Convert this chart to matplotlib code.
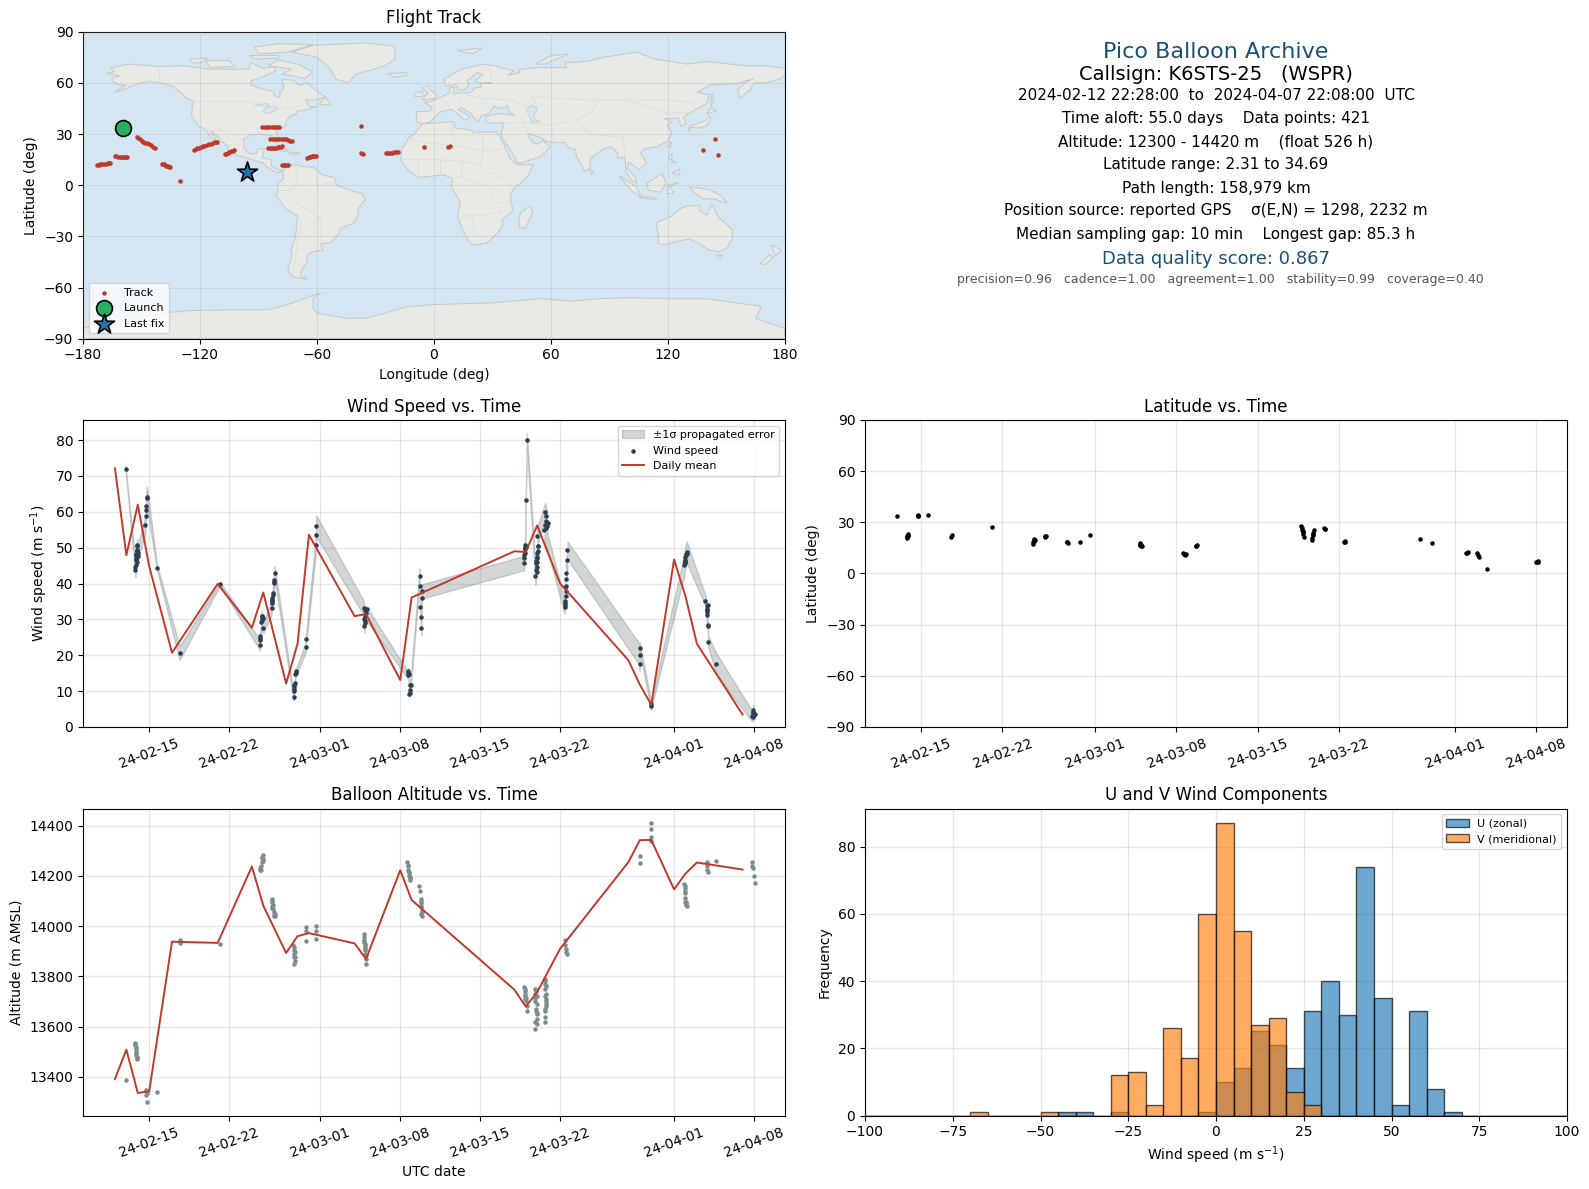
#!/usr/bin/env python
# Pico balloon flight summary: track map, text box, time series, wind histogram
import numpy as np
import matplotlib
matplotlib.use("Agg")
from matplotlib import pyplot as plt
from matplotlib import dates as mdates
from matplotlib.patches import Polygon

wind_day = [-2.06, -1.2, -1.2, -1.17, -1.15, -1.12, -1.1, -1.08, -1.05, -1.02,
            -0.35, -0.3, -0.28, -0.27, -0.22, -0.2, 0.7, 2.66, 6.2,
            9.7, 9.72, 9.75, 9.9, 9.85, 9.87, 10.0,
            10.72, 10.75, 10.8, 10.85, 10.95, 10.97, 11.0,
            12.65, 12.68, 12.72, 12.75, 12.85, 13.72, 13.75, 14.6, 14.62, 14.65,
            18.8, 18.85, 18.9, 18.95, 19.0,
            22.65, 22.7, 22.8, 22.85, 22.9,
            23.7, 23.72, 23.75, 23.8, 23.85, 23.88, 23.9,
            32.85, 32.87, 32.9, 32.92, 32.95, 33.0, 33.1,
            33.85, 33.9, 33.9, 33.95, 34.0, 34.05, 34.0,
            34.7, 34.8, 34.9, 34.65, 34.62,
            36.4, 36.42, 36.5, 36.55, 36.55, 36.5, 36.65, 36.65,
            43.0, 43.0, 43.0, 44.0, 44.02,
            46.9, 46.95, 47.05, 47.1,
            48.75, 48.85, 48.9, 48.85, 48.95, 49.0, 49.7,
            52.85, 52.9, 52.95, 53.0]
wind = [71.9, 43.7, 44.6, 46.5, 47, 48, 49, 49.4, 50.4, 48.5,
        56.2, 58.9, 60.6, 61.7, 63.8, 64.1, 44.3, 20.6, 39.9,
        22.9, 24.3, 25.3, 29.9, 30.9, 30.2, 27.6,
        33.2, 34.6, 36, 37.4, 40.1, 41, 42.9,
        8.4, 9.9, 11.3, 12.3, 15.1, 22.3, 24.5, 50.7, 53.5, 56,
        33.2, 28.3, 29.5, 30.9, 31.8,
        14.6, 15.5, 9.2, 10.4, 11.8,
        42.2, 39.2, 33.5, 30.7, 27.6, 36, 37.8,
        45.7, 47.1, 48.5, 49.9, 50.8, 63.4, 80,
        42.1, 43.9, 45.7, 47.1, 48.5, 50.4, 53.2,
        60, 58.7, 56.9, 56.4, 55,
        33.5, 35, 37.8, 39.2, 41.4, 42.9, 46.7, 49.3,
        20.1, 17.6, 22, 5.8, 6.5,
        45.3, 46.7, 48.1, 48.8,
        35.2, 33.6, 32.2, 31.3, 28.1, 23.7, 17.6,
        3, 3.9, 4.8, 3.4]
wind_err = [0.8, 2, 2, 2, 2, 2, 2, 2, 2, 2,
            2.5, 2.5, 2.5, 3, 3, 3, 0.8, 2, 0.5,
            1.5, 1.5, 1.5, 1.5, 1.5, 1.5, 1.5,
            2, 2, 2, 2, 2, 2, 2,
            1, 1, 1, 1, 1, 1.5, 1.5, 2.5, 3, 3,
            2, 2, 2, 2, 2,
            1, 1, 1, 1.5, 1.5,
            2, 2, 2, 2, 2, 2, 2,
            2, 2.5, 2.5, 2.5, 2.5, 1.5, 2,
            2.5, 2.5, 2.5, 2.5, 2.5, 2.5, 2.5,
            2.5, 2.5, 2.5, 2.5, 2.5,
            2, 2, 2, 2, 2, 2.5, 2.5, 2.5,
            3, 2, 1.5, 1, 1,
            3, 3, 3, 3,
            1.5, 1.5, 1.5, 1.5, 1.5, 1.5, 3,
            1.5, 1.5, 1.5, 1.5]

# more wind dots inside the dense stacks, no band behind them
wind_extra_day = [-1.18, -1.1, -1.05, -1.0, -1.08, -1.13, -1.03, 9.82, 9.9, 9.95, 9.7,
                  10.75, 10.8, 10.85, 10.95, 12.7, 12.7, 12.85, 12.75,
                  18.85, 18.95, 19.05, 18.9, 22.65, 22.75, 22.85, 22.95,
                  32.88, 32.9, 33.0, 33.05, 32.95,
                  33.95, 33.9, 34.0, 34.05, 34.05, 33.95, 34.0,
                  34.85, 34.95, 34.9, 34.75, 34.8, 36.4, 36.4, 36.45, 36.5,
                  46.95, 47.0, 47.0, 47.1, 47.0, 48.9, 48.95, 49.0, 48.9,
                  52.9, 53.1, 52.95, 52.9]
wind_extra = [45.2, 47.5, 49, 47.8, 46, 48.3, 50.8, 29.4, 31, 30.5, 24.8,
              35.5, 35, 36.8, 40.5, 10.5, 11.8, 15.6, 14.8,
              30, 32.5, 33, 29, 15, 14.8, 9.6, 11.6,
              48, 49.5, 50.3, 50.6, 50,
              44.5, 46.3, 47.5, 49, 50.6, 43.3, 46,
              56.8, 56.9, 56, 55.5, 57.3, 33.9, 34.5, 39, 36.5,
              46, 46.3, 47.5, 48.2, 45.8, 33, 33.9, 28.5, 32.7,
              3.3, 3.5, 2.8, 4.3]

# daily means (dates are midnight UTC)
mean_dates = ["2024-02-12", "2024-02-13", "2024-02-14", "2024-02-15", "2024-02-17",
              "2024-02-21", "2024-02-24", "2024-02-25", "2024-02-27", "2024-02-28",
              "2024-02-29", "2024-03-04", "2024-03-05", "2024-03-08", "2024-03-09",
              "2024-03-18", "2024-03-19", "2024-03-20", "2024-03-22", "2024-03-28",
              "2024-03-29", "2024-03-30", "2024-04-01", "2024-04-02", "2024-04-03",
              "2024-04-07"]
wind_mean = [72.1, 47.9, 62, 44.8, 20.7, 39.9, 27.7, 37.5, 12.1, 23.2, 53.6, 30.9, 31.5,
             13.1, 36.1, 49.0, 48.8, 56.2, 40.1, 18.6, 11.8, 6.2, 46.7, 36.4, 23.2, 3.5]
alt_mean = [13391, 13508, 13336, 13342, 13938, 13933, 14237, 14081, 13893, 13960, 13972,
            13931, 13869, 14222, 14104, 13747, 13680, 13737, 13909, 14255, 14342, 14343,
            14146, 14209, 14253, 14225]

alt_day = [-2.06, -1.2, -1.18, -1.15, -1.15, -1.12, -1.1, -1.08, -1.2, -0.3, -0.27, -0.22,
           -0.2, -0.25, 0.7, 2.66, 2.7, 6.2,
           9.7, 9.75, 9.8, 9.85, 9.9, 9.95, 10.0, 10.72, 10.75, 10.8, 10.85, 10.9, 10.95,
           11.0, 12.6, 12.65, 12.7, 12.72, 12.75, 12.7, 13.7, 13.75, 13.75, 14.65, 14.65, 14.65,
           18.8, 18.82, 18.85, 18.9, 18.9, 18.95, 19.0, 19.0,
           22.6, 22.65, 22.7, 22.75, 22.8, 22.85, 22.9, 23.65, 23.7,
           23.8, 23.82, 23.85, 23.88, 23.9,
           32.85, 32.9, 32.95, 33.0, 33.1, 33.15,
           33.8, 33.85, 33.85, 33.9, 33.95, 33.95, 33.95, 33.85,
           34.65, 34.7, 34.7, 34.75, 34.8, 34.75, 34.7, 34.65, 34.65,
           36.4, 36.45, 36.5, 36.55, 36.6,
           43.0, 43.0, 44.0, 44.0, 44.0, 44.0,
           46.9, 46.95, 46.95, 47.0, 47.05, 47.05, 47.1,
           48.85, 48.9, 48.9, 48.95, 49.7,
           52.8, 52.85, 52.9, 53.0, 53.05,
           33.9, 33.95, 33.85, 33.95, 33.9, 33.85, 33.95,
           34.7, 34.75, 34.7, 34.8, 34.75, 34.7, 32.9, 32.95, 32.9, 33.0,
           9.8, 9.9, 9.95, 10.8, 10.85, 10.8, 10.9, 11.0, 12.7, 12.75, 12.8,
           18.85, 18.9, 18.95, 19.0, 22.7, 22.8, 22.85, 23.85, 23.85, 23.9, 23.85,
           -1.15, -1.1, -1.2, 46.95, 47.0, 47.0, 47.05]
alt = [13388, 13530, 13520, 13510, 13495, 13485, 13475, 13470, 13525, 13348, 13326, 13300,
       13335, 13342, 13340, 13945, 13932, 13930,
       14222, 14230, 14240, 14255, 14272, 14282, 14265, 14109, 14095, 14080, 14068, 14055, 14045,
       14040, 13923, 13905, 13890, 13875, 13860, 13850, 13980, 13995, 13940, 14000, 13980, 13950,
       13970, 13955, 13935, 13920, 13905, 13890, 13870, 13850,
       14255, 14240, 14225, 14210, 14200, 14190, 14185, 14158, 14140,
       14109, 14090, 14075, 14055, 14039,
       13757, 13740, 13720, 13700, 13680, 13660,
       13750, 13730, 13700, 13670, 13650, 13630, 13610, 13590,
       13790, 13770, 13750, 13730, 13700, 13680, 13660, 13640, 13617,
       13943, 13925, 13910, 13895, 13890,
       14279, 14251, 14412, 14388, 14355, 14339,
       14169, 14150, 14130, 14110, 14095, 14085, 14080,
       14255, 14240, 14225, 14215, 14260,
       14255, 14240, 14230, 14200, 14170,
       13740, 13720, 13715, 13690, 13660, 13620, 13655,
       13780, 13760, 13720, 13710, 13690, 13670, 13750, 13730, 13710, 13715,
       14225, 14275, 14260, 14100, 14085, 14070, 14040, 14050, 13915, 13895, 13875,
       13945, 13930, 13912, 13885, 14245, 14215, 14195, 14100, 14080, 14060, 14050,
       13500, 13480, 13535, 14160, 14140, 14095, 14090]

lat_day = [-2.07, -1.25, -1.2, -1.15, -1.1, -0.3, -0.25, 0.6, 2.6, 2.62, 6.1,
           9.6, 9.65, 9.7, 9.75, 10.65, 10.75, 12.55, 12.65, 13.65, 14.55,
           18.85, 18.9, 18.95, 22.6, 22.75, 23.65, 23.75,
           32.75, 32.8, 32.85, 32.9, 32.95, 33.0,
           33.65, 33.7, 33.75, 33.8, 33.85, 34.7, 34.85, 36.45, 36.55,
           43.0, 44.0, 47.0, 47.1, 47.9, 48.0, 48.1, 48.8, 53.0, 53.1, 53.2,
           -1.1, -1.2, -0.27, 9.75, 9.8, 12.6, 18.95, 19.0, 18.9, 22.65, 22.8,
           23.7, 10.7, 32.9, 33.8, 34.8, 36.5, 47.05, 53.15]
lat_val = [33.5, 20.6, 21.3, 22.2, 23.4, 33.9, 34.2, 34.1, 21.6, 22.4, 27,
           17.3, 18.2, 19.2, 20, 21.2, 21.9, 18.6, 18, 18.2, 22.4,
           17.6, 16.6, 15.9, 11.8, 11.1, 15.9, 16.7,
           27.8, 26.6, 25.4, 24.2, 23, 21.6,
           19.6, 21, 22.5, 24, 25.5, 26.5, 26.1, 18.2, 19.3,
           20, 17.6, 12.2, 12.4, 12.2, 11, 9.6, 2.35, 6.6, 6.9, 7.2,
           22.3, 21.8, 34, 18.8, 19.7, 18.4, 16.5, 16, 17, 11.5, 11.4,
           16.3, 21.7, 24.8, 23, 26.3, 18.7, 12.3, 6.9]

# ---- map track
track_lon = [-172.8, -172, -171.2, -170.2, -169.3, -168.3, -167.3, -166.8, -166.2,
             -163.8, -163, -162.1, -161.1, -160.2, -159.3, -158.5, -157.9, -157.3,
             -152.5, -151.7, -150.9, -150, -149, -148, -147.1, -146.1, -145.1, -144.1, -143.2,
             -139.4, -138.7, -138, -137.3, -136.6, -136, -135.4, -130.3,
             -123.2, -122.3, -121.5, -120.5, -119.6, -118.6, -117.7, -116.6, -115.6, -114.4, -113.2, -112.2, -111.3,
             -107.2, -106.5, -105.8, -105, -104.1, -103.2, -102.4,
             -88.1, -86.9, -85.7, -84.5, -83.3, -82.3, -81.4, -80.5, -79.7,
             -84, -82.8, -81.7, -80.5, -79.3, -78.1, -76.9, -75.9, -75, -73.8, -72.6,
             -85, -84, -83.1, -82.1, -81.2, -80.2, -79.3, -78.7, -78.1,
             -77.8, -77, -76.2, -75.6, -75,
             -64.9, -64.2, -63.5, -62.8, -62.1, -61.3, -60.6,
             -37.5, -37.3, -36.3,
             -24.4, -23.4, -22.5, -21.5, -20.5, -19.5, -18.6,
             -5.3, 7.1, 8.1, 143.9, 138.2, 145.8]
track_lat = [11.9, 12.1, 12.3, 12.4, 12.5, 12.7, 12.9, 12.9, 12.9,
             17.4, 17.1, 16.8, 16.7, 16.6, 16.6, 16.6, 16.6, 16.6,
             28, 27.4, 26.8, 26.2, 25.6, 25, 24.5, 23.9, 23.3, 22.6, 21.9,
             12.7, 12.3, 11.9, 11.5, 11.2, 10.8, 10.4, 2.4,
             20.9, 21.3, 21.7, 22, 22.3, 22.7, 23.1, 23.5, 23.9, 24.4, 24.9, 25.1, 25.4,
             18, 18.5, 19, 19.4, 19.8, 20.1, 20.4,
             34.2, 34.2, 34.2, 34.2, 34.2, 34.2, 34.2, 34.3, 34.4,
             27.2, 27.2, 27.2, 27.2, 27.2, 27.1, 27, 26.8, 26.6, 26.2, 25.8,
             21.9, 21.9, 21.9, 22, 22.1, 22.3, 22.5, 22.6, 22.7,
             11.9, 11.9, 11.9, 11.9, 11.9,
             16.2, 16.5, 16.8, 17, 17.2, 17.3, 17.4,
             34.7, 18.6, 18,
             19, 19, 19, 19.1, 19.2, 19.4, 19.6,
             22.3, 22.5, 22.9, 27, 20.7, 17.8]
launch = (-159.7, 33.7)
last_fix = (-96, 7.8)

# ---- histogram counts by left bin edge, 5 m/s bins, empty bins left out
u_hist = {-45: 1, -40: 1, -30: 1, -5: 1, 0: 10, 5: 14, 10: 25, 15: 21, 20: 14, 25: 31, 30: 40,
          35: 30, 40: 74, 45: 35, 50: 3, 55: 31, 60: 8, 65: 1}
v_hist = {-70: 1, -50: 1, -30: 12, -25: 13, -20: 3, -15: 26, -10: 17, -5: 60, 0: 87, 5: 55,
          10: 27, 15: 29, 20: 7, 25: 3}
bin_left = list(range(-100, 100, 5))
u_counts = [u_hist.get(b, 0) for b in bin_left]
v_counts = [v_hist.get(b, 0) for b in bin_left]

# ---- rough coastlines (lon, lat)
land = [
    [(-168,65.5),(-164,66.5),(-166,68.5),(-157,71),(-141,69.7),(-128,70),(-115,68),(-108,68),(-95,68),(-94,72),
     (-88,68.5),(-82,69.5),(-81,67),(-87,64),(-94,61),(-94,58.8),(-88,56.5),(-82,55),(-82,52.5),(-79,51.5),(-79,55),
     (-77,57),(-78,62),(-72,61.5),(-69,58.5),(-65,60),(-60,55),(-56,52),(-60,50),(-66,50),(-65,48.5),(-64,46),(-60,46),
     (-66,44),(-70,43.5),(-71,41.5),(-74,40.5),(-76,37),(-76,35),(-81,31.5),(-80,26),(-81,25),(-83,29),(-89,30),
     (-94,29.5),(-97.5,27),(-97.5,22),(-95,18.5),(-91,18.5),(-90.5,21),(-87,21.5),(-88,16),(-83.5,15),(-83.5,11),
     (-80,9),(-77.5,8.5),(-79,7.5),(-81,7.5),(-85,10),(-87.5,13),(-92,14.5),(-96,16),(-101,17.5),(-105.5,20),
     (-105.5,22.5),(-109,26),(-113,31),(-114.5,31.5),(-112,27),(-110,23),(-112,25),(-115,29),(-117,32.5),(-120.5,34.5),
     (-122.5,37.5),(-124.3,40.5),(-124,46),(-123,49),(-127,51),(-130,54.5),(-134,58),(-140,60),(-146,61),(-152,59.5),
     (-158,56.5),(-164,54.5),(-158,58.5),(-162,59),(-165,61),(-165,63),(-161,64)],
    [(-73,78),(-62,82),(-35,83.5),(-20,81.5),(-20,74),(-25,70),(-40,65),(-44,60),(-50,62),(-54,69),(-60,75)],
    [(-80,73.5),(-70,71),(-62,66.5),(-66,62.5),(-72,64),(-78,65),(-73,68),(-85,70)],
    [(-117,73),(-105,73),(-102,69.5),(-115,69)],
    [(-90,77),(-75,78),(-62,82.5),(-80,83),(-92,81)],
    [(-125,74),(-116,74.5),(-120,71.5),(-125,72)],
    [(-95,76),(-80,76),(-80,74.5),(-92,74)],
    [(-59,47.5),(-53,47),(-55.5,51.5)],
    [(-84.5,22),(-80,23),(-74.5,20.2),(-78,20)],
    [(-74,19.5),(-68.5,18.7),(-71,18),(-74,18.3)],
    [(-77.5,8.5),(-75,11),(-71.5,12.3),(-68,11),(-62,10.5),(-57,6),(-51,4.5),(-50,0),(-44,-2.5),(-37,-5),(-35,-8),
     (-39,-14),(-39,-18),(-41,-22),(-48,-25.5),(-48.5,-28),(-53,-33.5),(-58,-34.5),(-57,-38),(-62,-39),(-65,-41),
     (-65,-45),(-68,-50),(-68.5,-53),(-65,-55),(-72,-54),(-75,-50),(-73,-42),(-73,-37),(-71,-30),(-70,-18),(-76,-14),
     (-81,-6),(-80,-2.5),(-80,1),(-77,4)],
    [(-6,36),(10,37.3),(11,33.5),(20,32),(20,31),(32,31.3),(34,28),(37,21),(39,15.5),(43,12),(51,12),(48,5),(41,-2),
     (39,-6),(40.5,-15),(35,-20),(35,-24),(32.5,-28),(27,-34),(20,-35),(18,-33),(15,-27),(12,-18),(13.5,-10),(9,-1),
     (9.5,4),(5,6),(-4,5),(-8,4.5),(-13,8.5),(-17,14.5),(-16.5,21),(-13,27.5),(-10,30)],
    [(49.5,-12),(50.5,-16),(47,-25),(44,-25),(43.5,-20),(44.5,-16)],
    [(-9,37),(-9,43),(-2,43.5),(-1,46),(-5,48.3),(-1.5,49),(2,51),(4,52),(8,54),(8,57),(10.5,57.5),(10,54),(14,54),
     (19,54.5),(21,57),(24,57.5),(24,59.5),(30,60),(23,60),(21,61),(25,65),(22,66),(17,61),(18,59.5),(16,56.3),
     (13,55.5),(11,59),(6,58.2),(5,62),(14,68),(25,71),(31,70),(41,67),(38,64.5),(44,66),(44,68),(54,69),(68,69),
     (67,72),(73,72),(80,73),(87,75),(104,78),(113,74),(130,71),(140,72.5),(160,70),(170,70),(180,68.5),(180,65),
     (178,62.5),(170,60),(164,60),(162,56),(157,51),(155.7,56),(160,60.5),(164,62.5),(155,59.5),(142,59),(135,54.5),
     (141,53),(140,48),(132,43),(128,40),(129.5,36),(126.5,34.5),(126,37.5),(125,39.5),(121.5,39),(118,39),(122,37),
     (119.5,35),(122,31),(120,26),(114,22.5),(108,21.5),(106,19),(109,13),(105,9),(103,11),(100,13.5),(99,10),(103,5),
     (104,1.5),(101,3),(98.5,8),(98,16),(94.5,16),(94,19),(91,22.5),(87,21.5),(80,15.5),(80,10),(77.5,8),(73,17),
     (72.5,21),(69,22),(67,25),(61,25),(57,26),(56,27),(50,30),(48,30),(50.5,25),(53,24),(56,26),(59.5,22.5),(55,17),
     (45,13),(43,13),(39,21),(35,28),(34.5,31),(36,36.5),(30,36.3),(27,37),(26.5,40),(29,41),(35,42),(41,41),(38,44),
     (38,46.5),(33,45),(31,46.5),(28,42),(24,40.5),(23,37),(20,40),(19,42),(14,45.5),(12.5,44.5),(18.5,40),(16,38),
     (12,42),(9,44.5),(3.5,43),(0,39.5),(-2,37),(-5.5,36)],
    [(-5.5,50),(1,51),(1.5,53),(-2,56),(-3,58.5),(-6,57),(-3,54),(-5,52)],
    [(-10,52),(-6,52),(-6,55),(-10,54)],
    [(-24,65.5),(-14,66),(-14,64.5),(-20,63.3)],
    [(12,79),(25,80.5),(20,77)],
    [(52,71),(57,71),(69,77),(60,76)],
    [(130.5,31.5),(132,34),(136,33.5),(140,35),(142,39.5),(141,41),(139.5,38),(136,36.5),(131,34.5)],
    [(140,42),(145,43.5),(142,45.5)],
    [(142,46),(143.5,50),(142.5,54),(142,50)],
    [(120,23),(121,22),(122,25),(121,25.2)],
    [(80,9.5),(82,7.5),(80.5,6)],
    [(95,5.5),(104,-1),(106,-6),(102,-4),(98,1)],
    [(105,-6.5),(114,-7.5),(114,-8.5),(106,-7.5)],
    [(109,1),(117,7),(119,1),(116,-4),(110,-3)],
    [(119.5,-5),(120,0),(125,1.5),(121,-1),(123,-5)],
    [(131,-1),(141,-2.5),(147,-6),(150.5,-10.5),(143,-8),(138,-8),(133,-4)],
    [(120,16),(122,18.5),(122,14),(124,13)],
    [(122,7),(126,9.5),(126,6)],
    [(114,-22),(122,-18),(126,-14),(130,-12),(136,-12),(136,-15),(140,-17.5),(142.5,-11),(146,-19),(153,-26),(153,-31),
     (150,-37),(146,-39),(141,-38),(137,-35),(131,-31.5),(124,-33),(118,-35),(115,-34),(115,-30)],
    [(145,-41),(148,-41),(147,-43.5)],
    [(173,-35),(178,-38),(175,-41.5),(174,-38)],
    [(172,-41),(174,-42),(170,-46.5),(167,-46)],
    [(-180,-90),(-180,-84),(-165,-80),(-150,-77),(-140,-75),(-125,-73.5),(-100,-73),(-85,-73),(-75,-70),(-68,-67),
     (-58,-63),(-62,-66),(-62,-72),(-60,-75),(-45,-78),(-35,-78),(-25,-75),(-15,-71.5),(0,-70),(15,-69.5),(30,-69),
     (40,-68),(55,-66.5),(70,-68),(85,-66.5),(100,-66),(120,-66.5),(140,-66.5),(155,-69),(168,-71),(165,-78),(180,-84),
     (180,-90)],
]
lakes = [
    [(50,47),(53,45),(51,40),(54,37),(50,37),(49,41),(47,44)],
    [(-92,47),(-85,48),(-84.5,46.5),(-88,46.5)],
    [(-88,43),(-86,45.5),(-81,46),(-80,44.5),(-83,43),(-86,42)],
]
borders = [
    [(-141,69.7),(-141,60)], [(-123,49),(-95,49),(-83,45.5),(-75,45),(-67,47)], [(-117,32.5),(-106,31.7),(-97.5,26)],
    [(-71,12),(-70,1),(-74,-3),(-70,-11),(-58,-20),(-58,-34)], [(-70,-18),(-68,-23),(-70,-33),(-72,-50)],
    [(-60,5),(-60,0),(-52,2)], [(-80,-3),(-74,-3)], [(-62,-22),(-58,-20)],
    [(-9,42),(-7,37)], [(-2,43.5),(3,42.5)], [(2,51),(8,47.5),(7,44)], [(8,54),(14,51),(13,47.5)], [(14,54),(24,51),(28,45)],
    [(30,60),(28,70)], [(24,51),(40,50),(48,46)], [(50,52),(62,51),(85,50),(98,50),(120,50),(135,48)],
    [(85,50),(80,42),(73,39),(61,35),(61,25)], [(73,39),(80,30),(97,28),(98,16)], [(50,52),(53,45)], [(98,50),(120,42),(130,43)],
    [(36,36.5),(46,37),(48,30)], [(46,37),(61,35)],
    [(-13,27.5),(-5,25),(12,23),(25,20),(37,21)], [(25,31),(25,20),(24,9),(35,5),(41,-2)], [(-17,15),(0,15),(15,14),(24,12)],
    [(10,37),(9,30),(12,23)], [(15,14),(14,5),(9.5,4)], [(14,5),(30,-2),(30,-10),(40.5,-10.5)], [(12,-18),(25,-18),(35,-15)],
    [(20,-29),(20,-18)], [(3,6),(3,15)], [(-8,4.5),(-8,15)],
]

# ---- fixed axes positions in pixels, figure is 1589x1189
fig = plt.figure(figsize=(15.89, 11.89), dpi=100)
FW, FH = 1589.0, 1189.0


def add_axes(left, right, top, bottom):
    return fig.add_axes([left/FW, 1-bottom/FH, (right-left)/FW, (bottom-top)/FH])


RED = "#c0392b"
NAVY = "#2c3e50"
GREY = "#7f8c8d"
GRID = dict(color="#b0b0b0", alpha=0.3, linewidth=1.0)

# map
ax = add_axes(83, 785, 31.7, 338.7)
ax.set_facecolor("#d4e6f1")
for poly in land:
    ax.add_patch(Polygon(poly, closed=True, facecolor="#e8e8e4", edgecolor="#c3c8ca", linewidth=0.7, zorder=1))
for poly in lakes:
    ax.add_patch(Polygon(poly, closed=True, facecolor="#d4e6f1", edgecolor="#c3c8ca", linewidth=0.5, zorder=1.1))
for line in borders:
    ax.plot([p[0] for p in line], [p[1] for p in line], color="#dcdcd8", linewidth=0.6, zorder=1.2)
ax.grid(True, color="#999999", alpha=0.25, linewidth=0.6, zorder=1.5)
ax.set_axisbelow(False)
ax.scatter(track_lon, track_lat, s=5, color=RED, zorder=3, label="Track")
ax.scatter(*launch, s=130, color="#27ae60", edgecolor="black", linewidth=1.2, zorder=4, label="Launch")
ax.scatter(*last_fix, s=230, marker="*", color="#2176ae", edgecolor="black", linewidth=1.2, zorder=4, label="Last fix")
ax.set_xlim(-180, 180)
ax.set_ylim(-90, 90)
ax.set_xticks(range(-180, 181, 60))
ax.set_yticks(range(-90, 91, 30))
ax.set_xlabel("Longitude (deg)")
ax.set_ylabel("Latitude (deg)")
ax.set_title("Flight Track", fontsize=12)
ax.legend(loc="lower left", fontsize=8)

# text panel
ax = add_axes(865, 1567, 31, 338)
ax.axis("off")
info = [
    (52, "Pico Balloon Archive", 16, "#1a5276", 0),
    (75, "Callsign: K6STS-25   (WSPR)", 14, "black", 0),
    (95, "2024-02-12 22:28:00  to  2024-04-07 22:08:00  UTC", 11, "black", 0),
    (119, "Time aloft: 55.0 days    Data points: 421", 11, "black", 0),
    (142, "Altitude: 12300 - 14420 m    (float 526 h)", 11, "black", 0),
    (165, "Latitude range: 2.31 to 34.69", 11, "black", 0),
    (188, "Path length: 158,979 km", 11, "black", 0),
    (211, "Position source: reported GPS    σ(E,N) = 1298, 2232 m", 11, "black", 0),
    (234, "Median sampling gap: 10 min    Longest gap: 85.3 h", 11, "black", 0),
    (259, "Data quality score: 0.867", 13, "#1a5276", 0),
    (279, "precision=0.96   cadence=1.00   agreement=1.00   stability=0.99   coverage=0.40", 9, "#555555", 4),
]
for py, txt, size, col, dx in info:
    ax.text(0.5+dx/702.0, 1-(py-31)/307.0, txt, fontsize=size, color=col, ha="center", va="center", transform=ax.transAxes)

t0 = mdates.date2num(np.datetime64("2024-02-15"))
mean_x = [mdates.date2num(np.datetime64(d)) for d in mean_dates]
wind_x = t0 + np.array(wind_day)
wind_extra_x = t0 + np.array(wind_extra_day)
alt_x = t0 + np.array(alt_day)
lat_x = t0 + np.array(lat_day)
tick_x = [mdates.date2num(np.datetime64(d)) for d in
          ["2024-02-15", "2024-02-22", "2024-03-01", "2024-03-08", "2024-03-15", "2024-03-22", "2024-04-01", "2024-04-08"]]


def date_axis(ax, xlim_lo, xlim_hi):
    ax.set_xlim(t0+xlim_lo, t0+xlim_hi)
    ax.set_xticks(tick_x)
    ax.xaxis.set_major_formatter(mdates.DateFormatter("%y-%m-%d"))
    ax.tick_params(axis="x", rotation=20)
    ax.grid(True, **GRID)
    ax.set_axisbelow(True)


# wind speed
ax = add_axes(83, 785, 420, 727)
w = np.array(wind)
e = np.array(wind_err)
ax.fill_between(wind_x, w-e, w+e, color=GREY, alpha=0.35, label="±1σ propagated error")
ax.scatter(wind_x, w, s=5, color=NAVY, label="Wind speed", zorder=3)
ax.scatter(wind_extra_x, wind_extra, s=5, color=NAVY, zorder=3)
ax.plot(mean_x, wind_mean, color=RED, linewidth=1.4, label="Daily mean", zorder=4)
date_axis(ax, -5.8, 55.72)
ax.set_ylim(0, 85.6)
ax.set_yticks(range(0, 81, 10))
ax.set_ylabel("Wind speed (m s$^{-1}$)")
ax.set_title("Wind Speed vs. Time", fontsize=12)
ax.legend(loc="upper right", fontsize=8)

# latitude
ax = add_axes(865, 1567, 420, 727)
ax.scatter(lat_x, lat_val, s=5, color="black", zorder=3)
date_axis(ax, -4.85, 55.67)
ax.set_ylim(-90, 90)
ax.set_yticks(range(-90, 91, 30))
ax.set_ylabel("Latitude (deg)")
ax.set_title("Latitude vs. Time", fontsize=12)

# altitude
ax = add_axes(83, 785, 808.5, 1115.5)
ax.scatter(alt_x, alt, s=5, color=GREY, zorder=3)
ax.plot(mean_x, alt_mean, color=RED, linewidth=1.4, zorder=4)
date_axis(ax, -5.8, 55.72)
ax.set_ylim(13246, 14468)
ax.set_yticks(range(13400, 14401, 200))
ax.set_xlabel("UTC date")
ax.set_ylabel("Altitude (m AMSL)")
ax.set_title("Balloon Altitude vs. Time", fontsize=12)

# histogram
ax = add_axes(865, 1567, 808.5, 1115.5)
ax.bar(bin_left, u_counts, width=5, align="edge", color="tab:blue", edgecolor="black", alpha=0.65, label="U (zonal)")
ax.bar(bin_left, v_counts, width=5, align="edge", color="tab:orange", edgecolor="black", alpha=0.65, label="V (meridional)")
ax.set_xlim(-100, 100)
ax.set_ylim(0, 91.35)
ax.set_xticks(range(-100, 101, 25))
ax.set_yticks(range(0, 81, 20))
ax.grid(True, **GRID)
ax.set_axisbelow(True)
ax.set_xlabel("Wind speed (m s$^{-1}$)")
ax.set_ylabel("Frequency")
ax.set_title("U and V Wind Components", fontsize=12)
ax.legend(loc="upper right", fontsize=8)

fig.savefig("out.png", dpi=100)
